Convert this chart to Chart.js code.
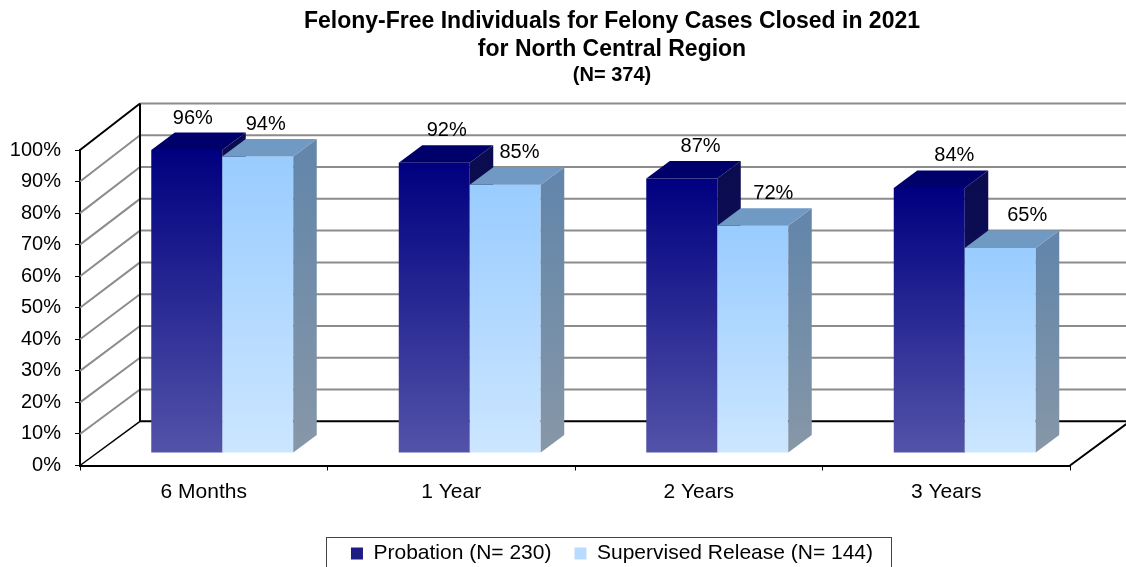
<!DOCTYPE html>
<html><head><meta charset="utf-8">
<script src="https://cdn.jsdelivr.net/npm/chart.js@4.4.1/dist/chart.umd.min.js"></script>
<style>html,body{margin:0;padding:0;background:#fff;} canvas{display:block;}</style>
</head><body>
<canvas id="c" width="1126" height="567"></canvas>
<script>
// ---- data ----
const categories = ['6 Months', '1 Year', '2 Years', '3 Years'];
const probation = [96, 92, 87, 84];
const supervised = [94, 85, 72, 65];
const seriesNames = ['Probation (N= 230)', 'Supervised Release (N= 144)'];
const yTicks = [0, 10, 20, 30, 40, 50, 60, 70, 80, 90, 100];
const titleLines = ['Felony-Free Individuals for Felony Cases Closed in 2021', 'for North Central Region'];
const subtitleText = '(N= 374)';

// ---- style ----
const FONT = "'Liberation Sans', Arial, Helvetica, sans-serif";
const BAR_SHIFT = {x: 18.5, y: -12.5};
const BAR_DEPTH = {x: 23.5, y: -17.5};
const WALL_DEPTH = {x: 60, y: -44.2};
const BACK_SCALE = 1.0073;
const GRID = '#8c8c8c';
const CENTER_SHIFT = 77;
const palette = [
  {front: ['#000080', '#5353A9'], top: '#00006A', side: ['#0B0B50', '#141460'], legend: '#1c1c84'},
  {front: ['#99CCFF', '#CCE6FF'], top: '#7099C4', side: ['#6386AA', '#8797A7'], legend: '#b8dcff'}
];

function frontGradient(c, i) {
  const ch = c.chart, ys = ch.scales && ch.scales.y;
  if (!ys || c.type !== 'data' || !ch.chartArea) return palette[i].front[0];
  const top = ys.getPixelForValue(c.raw), bot = ys.getPixelForValue(0);
  const g = ch.ctx.createLinearGradient(0, top, 0, bot);
  g.addColorStop(0, palette[i].front[0]);
  g.addColorStop(1, palette[i].front[1]);
  return g;
}

const perspective = {
  id: 'perspective',
  afterLayout(chart) {
    for (const b of chart.boxes) {
      if (b === chart.legend || (b.options && typeof b.options.text !== 'undefined' && b.position === 'top')) {
        b.left += CENTER_SHIFT; b.right += CENTER_SHIFT;
      }
    }
  },
  beforeDatasetsDraw(chart) {
    const ctx = chart.ctx, ys = chart.scales.y, ca = chart.chartArea;
    const y0 = ys.getPixelForValue(0);
    const backY = v => y0 + WALL_DEPTH.y + (ys.getPixelForValue(v) - y0) * BACK_SCALE;
    const bx = ca.left + WALL_DEPTH.x;
    const wallRight = ca.right + WALL_DEPTH.x;
    ctx.save();
    ctx.lineWidth = 2;
    ctx.strokeStyle = GRID;
    yTicks.forEach(v => {
      if (v === 0) return;
      const fy = ys.getPixelForValue(v), by = backY(v);
      ctx.beginPath();
      if (v !== 100) { ctx.moveTo(ca.left, fy); ctx.lineTo(bx, by); }
      ctx.moveTo(bx, by); ctx.lineTo(wallRight, by);
      ctx.stroke();
    });
    ctx.strokeStyle = '#000';
    ctx.beginPath();
    ctx.moveTo(ca.left, ys.getPixelForValue(100)); ctx.lineTo(bx, backY(100));
    ctx.moveTo(bx, backY(100)); ctx.lineTo(bx, backY(0));
    ctx.moveTo(bx, backY(0)); ctx.lineTo(wallRight, backY(0));
    ctx.moveTo(ca.right, y0); ctx.lineTo(wallRight, backY(0));
    ctx.stroke();
    ctx.lineWidth = 1.5;
    ctx.beginPath();
    ctx.moveTo(ca.left, y0); ctx.lineTo(bx, backY(0));
    ctx.stroke();
    ctx.restore();

    const labels = [];
    [0, 1].forEach(i => {
      const meta = chart.getDatasetMeta(i);
      meta.data.forEach((el, idx) => {
        const {x, y, base, width} = el.getProps(['x', 'y', 'base', 'width'], true);
        const l = x - width / 2, r = x + width / 2;
        ctx.save();
        ctx.translate(BAR_SHIFT.x, BAR_SHIFT.y);
        el.draw(ctx);
        const sg = ctx.createLinearGradient(0, y, 0, base);
        sg.addColorStop(0, palette[i].side[0]);
        sg.addColorStop(1, palette[i].side[1]);
        ctx.fillStyle = sg;
        ctx.beginPath();
        ctx.moveTo(r, y); ctx.lineTo(r + BAR_DEPTH.x, y + BAR_DEPTH.y);
        ctx.lineTo(r + BAR_DEPTH.x, base + BAR_DEPTH.y); ctx.lineTo(r, base);
        ctx.closePath(); ctx.fill();
        ctx.fillStyle = palette[i].top;
        ctx.beginPath();
        ctx.moveTo(l, y); ctx.lineTo(l + BAR_DEPTH.x, y + BAR_DEPTH.y);
        ctx.lineTo(r + BAR_DEPTH.x, y + BAR_DEPTH.y); ctx.lineTo(r, y);
        ctx.closePath(); ctx.fill();
        ctx.restore();
        const fx = x + BAR_SHIFT.x, fy = y + BAR_SHIFT.y;
        labels.push({text: chart.data.datasets[i].data[idx] + '%', x: fx + 7 + 0.0256 * (fx - 222), y: fy - 32});
      });
    });
    ctx.save();
    ctx.font = '20px ' + FONT;
    ctx.fillStyle = '#000';
    ctx.textAlign = 'center';
    ctx.textBaseline = 'middle';
    labels.forEach(t => ctx.fillText(t.text, t.x, t.y));
    ctx.restore();
    return false;
  },
  afterDraw(chart) {
    const lg = chart.legend;
    if (!lg || !lg.lineWidths) return;
    const p = lg.options.labels.padding;
    const start = (lg.left + p + lg.right - lg.lineWidths[0]) / 2;
    const w = lg.lineWidths[0] - p;
    const ctx = chart.ctx;
    ctx.save();
    ctx.strokeStyle = '#444';
    ctx.lineWidth = 1;
    ctx.strokeRect(Math.round(start - 25) + 0.5, Math.round(lg.top + 16.5) + 0.5, Math.round(w + 43), 60);
    ctx.restore();
  }
};

new Chart(document.getElementById('c'), {
  type: 'bar',
  data: {
    labels: categories,
    datasets: [
      {label: seriesNames[0], data: probation, backgroundColor: c => frontGradient(c, 0), borderWidth: 0},
      {label: seriesNames[1], data: supervised, backgroundColor: c => frontGradient(c, 1), borderWidth: 0}
    ]
  },
  plugins: [perspective],
  options: {
    responsive: false,
    animation: false,
    events: [],
    categoryPercentage: 0.5737,
    barPercentage: 1,
    layout: {padding: {top: 0, left: 0, right: 56, bottom: -7}},
    plugins: {
      tooltip: {enabled: false},
      title: {display: true, text: titleLines, color: '#000',
        font: {family: FONT, size: 23, weight: 'bold', lineHeight: 1.2}, padding: {top: 8, bottom: 0}},
      subtitle: {display: true, text: subtitleText, color: '#000',
        font: {family: FONT, size: 20, weight: 'bold', lineHeight: 1.2}, padding: {top: 0, bottom: 62.8}},
      legend: {
        position: 'bottom',
        labels: {
          font: {family: FONT, size: 21}, color: '#000', boxWidth: 12, boxHeight: 12, padding: 23,
          generateLabels: chart => Chart.defaults.plugins.legend.labels.generateLabels(chart).map((it, i) =>
            Object.assign(it, {fillStyle: palette[i].legend, strokeStyle: palette[i].legend, lineWidth: 0}))
        }
      }
    },
    scales: {
      x: {
        grid: {drawOnChartArea: false, drawTicks: true, tickLength: 5, tickColor: '#000', offset: true},
        border: {display: true, color: '#000', width: 2},
        ticks: {font: {family: FONT, size: 21}, color: '#000', padding: 9},
        afterFit: s => { s.height = 54.5; }
      },
      y: {
        min: 0, max: 100,
        afterBuildTicks: s => { s.ticks = yTicks.map(v => ({value: v})); },
        ticks: {callback: v => v + '%', font: {family: FONT, size: 20}, color: '#000', padding: 14},
        grid: {drawOnChartArea: false, drawTicks: true, tickLength: 5, tickColor: '#000'},
        border: {display: true, color: '#000', width: 2},
        afterFit: s => { s.width = 80; }
      }
    }
  }
});
</script>
</body></html>
